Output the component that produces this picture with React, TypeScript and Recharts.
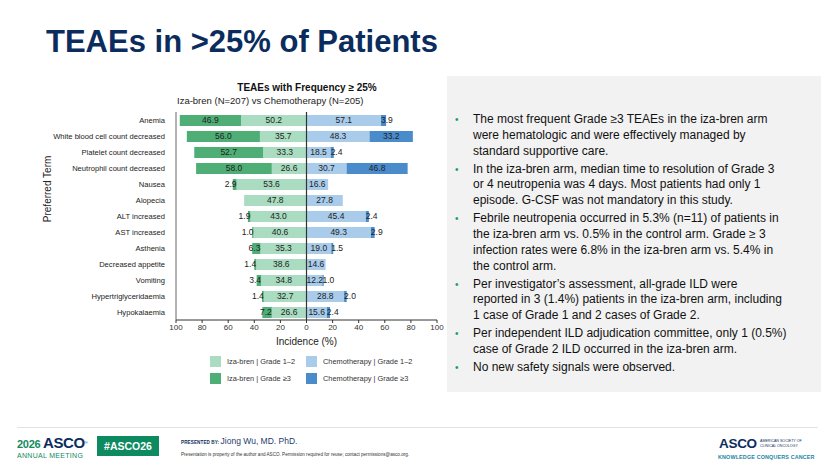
import React from 'react';
import { BarChart, Bar, XAxis, YAxis, ReferenceLine, LabelList } from 'recharts';

// Preferred terms, top to bottom
const categories = [
  'Anemia',
  'White blood cell count decreased',
  'Platelet count decreased',
  'Neutrophil count decreased',
  'Nausea',
  'Alopecia',
  'ALT increased',
  'AST increased',
  'Asthenia',
  'Decreased appetite',
  'Vomiting',
  'Hypertriglyceridaemia',
  'Hypokalaemia',
];

// Incidence (%) per arm and grade
const izaGrade12 = [50.2, 35.7, 33.3, 26.6, 53.6, 47.8, 43.0, 40.6, 35.3, 38.6, 34.8, 32.7, 26.6];
const izaGrade3 = [46.9, 56.0, 52.7, 58.0, 2.9, 0, 1.9, 1.0, 6.3, 1.4, 3.4, 1.4, 7.2];
const chemoGrade12 = [57.1, 48.3, 18.5, 30.7, 16.6, 27.8, 45.4, 49.3, 19.0, 14.6, 12.2, 28.8, 15.6];
const chemoGrade3 = [3.9, 33.2, 2.4, 46.8, 0, 0, 2.4, 2.9, 1.5, 0, 1.0, 2.0, 2.4];

const xTicks = [-100, -80, -60, -40, -20, 0, 20, 40, 60, 80, 100];

const legendItems = [
  { label: 'Iza-bren | Grade 1–2', key: 'izaLow' },
  { label: 'Chemotherapy | Grade 1–2', key: 'chemoLow' },
  { label: 'Iza-bren | Grade ≥3', key: 'izaHigh' },
  { label: 'Chemotherapy | Grade ≥3', key: 'chemoHigh' },
];

const bullets: string[][] = [
  [
    'The most frequent Grade ≥3 TEAEs in the iza-bren arm',
    'were hematologic and were effectively managed by',
    'standard supportive care.',
  ],
  [
    'In the iza-bren arm, median time to resolution of Grade 3',
    'or 4 neutropenia was 4 days. Most patients had only 1',
    'episode. G-CSF was not mandatory in this study.',
  ],
  [
    'Febrile neutropenia occurred in 5.3% (n=11) of patients in',
    'the iza-bren arm vs. 0.5% in the control arm. Grade ≥ 3',
    'infection rates were 6.8% in the iza-bren arm vs. 5.4% in',
    'the control arm.',
  ],
  [
    'Per investigator’s assessment, all-grade ILD were',
    'reported in 3 (1.4%) patients in the iza-bren arm, including',
    '1 case of Grade 1 and 2 cases of Grade 2.',
  ],
  [
    'Per independent ILD adjudication committee, only 1 (0.5%)',
    'case of Grade 2 ILD occurred in the iza-bren arm.',
  ],
  ['No new safety signals were observed.'],
];

const COLORS: Record<string, string> = {
  izaLow: '#a9dcc0',
  izaHigh: '#4eae75',
  chemoLow: '#a9cceb',
  chemoHigh: '#4a8bcb',
};

const FONT = '"Liberation Sans", Arial, Helvetica, sans-serif';
const NAVY = '#0b2d5e';
const GREEN = '#128a5e';

// Iza-bren values go to the left (negative), chemotherapy to the right
const rows = categories.map((term, i) => ({
  term,
  izaLow: -izaGrade12[i],
  izaHigh: -izaGrade3[i],
  chemoLow: chemoGrade12[i],
  chemoHigh: chemoGrade3[i],
}));

const LABEL_SIZE = 8.5;
const textWidth = (s: string) => {
  let w = 0;
  for (const ch of s) w += ch === '.' ? 0.278 : 0.556;
  return w * LABEL_SIZE;
};

// Centered value label; when the segment is too narrow the text starts at
// the segment's inner edge and runs outward.
const makeLabel = (side: 'left' | 'right') => (props: any) => {
  const { x, y, width, height, value } = props;
  const v = Math.abs(Number(value));
  if (!v) return <g />;
  const text = v.toFixed(1);
  const x0 = Math.min(x, x + width);
  const x1 = Math.max(x, x + width);
  const tw = textWidth(text);
  let tx = (x0 + x1) / 2;
  let anchor: 'middle' | 'start' | 'end' = 'middle';
  if (tw > x1 - x0) {
    if (side === 'left') {
      tx = x1;
      anchor = 'end';
    } else {
      tx = x0;
      anchor = 'start';
    }
  }
  return (
    <text
      x={tx}
      y={y + height / 2}
      dy="0.35em"
      textAnchor={anchor}
      fontSize={LABEL_SIZE}
      fontFamily={FONT}
      fill="#222"
    >
      {text}
    </text>
  );
};

// Single-line category tick (no wrapping)
const CategoryTick = (props: any) => {
  const { x, y, payload } = props;
  return (
    <text x={x} y={y} dy="0.35em" textAnchor="end" fontSize={7.6} fontFamily={FONT} fill="#222">
      {payload.value}
    </text>
  );
};

const YTitle = (props: any) => {
  const vb = props.viewBox || { x: 0, y: 0, height: 0 };
  const cx = vb.x + 7;
  const cy = vb.y + vb.height * 0.37;
  return (
    <text
      transform={`translate(${cx},${cy}) rotate(-90)`}
      textAnchor="middle"
      dy="0.35em"
      fontSize={10}
      fontFamily={FONT}
      fill="#222"
    >
      Preferred Term
    </text>
  );
};

export default function App() {
  return (
    <div
      style={{
        position: 'absolute',
        left: 0,
        top: 0,
        width: 831,
        height: 468,
        background: '#ffffff',
        fontFamily: FONT,
        overflow: 'hidden',
      }}
    >
      {/* Slide title */}
      <div
        style={{
          position: 'absolute',
          left: 46,
          top: 24,
          fontSize: 31,
          fontWeight: 700,
          color: NAVY,
          whiteSpace: 'nowrap',
          lineHeight: '36px',
        }}
      >
        TEAEs in &gt;25% of Patients
      </div>

      {/* Chart heading */}
      <div
        style={{
          position: 'absolute',
          left: 157,
          width: 300,
          top: 82,
          textAlign: 'center',
          fontSize: 10,
          fontWeight: 700,
          color: '#111',
          lineHeight: '12px',
        }}
      >
        TEAEs with Frequency ≥ 25%
      </div>
      <div
        style={{
          position: 'absolute',
          left: 177,
          top: 95,
          fontSize: 9.5,
          color: '#222',
          whiteSpace: 'nowrap',
          lineHeight: '12px',
        }}
      >
        Iza-bren (N=207) vs Chemotherapy (N=205)
      </div>

      <div style={{ position: 'absolute', left: 0, top: 0 }}>
        <BarChart
          width={460}
          height={400}
          data={rows}
          layout="vertical"
          stackOffset="sign"
          barSize={11}
          margin={{ top: 112, right: 23, left: 40, bottom: 50 }}
        >
          <XAxis
            type="number"
            domain={[-100, 100]}
            ticks={xTicks}
            allowDataOverflow
            tickFormatter={(v: number) => String(Math.abs(v))}
            tick={{ fontSize: 8, fill: '#333', fontFamily: FONT }}
            tickSize={3}
            tickMargin={1}
            axisLine={{ stroke: '#333' }}
            tickLine={{ stroke: '#333' }}
            height={30}
            label={{
              value: 'Incidence (%)',
              position: 'insideBottom',
              offset: 5,
              fontSize: 10,
              fill: '#222',
              fontFamily: FONT,
            }}
          />
          <YAxis
            type="category"
            dataKey="term"
            width={136}
            interval={0}
            tick={<CategoryTick />}
            tickLine={false}
            tickSize={0}
            tickMargin={11}
            axisLine={{ stroke: '#666' }}
            label={<YTitle />}
          />
          <Bar dataKey="izaLow" stackId="a" fill={COLORS.izaLow} isAnimationActive={false}>
            <LabelList dataKey="izaLow" content={makeLabel('left')} />
          </Bar>
          <Bar dataKey="izaHigh" stackId="a" fill={COLORS.izaHigh} isAnimationActive={false}>
            <LabelList dataKey="izaHigh" content={makeLabel('left')} />
          </Bar>
          <Bar dataKey="chemoLow" stackId="a" fill={COLORS.chemoLow} isAnimationActive={false}>
            <LabelList dataKey="chemoLow" content={makeLabel('right')} />
          </Bar>
          <Bar dataKey="chemoHigh" stackId="a" fill={COLORS.chemoHigh} isAnimationActive={false}>
            <LabelList dataKey="chemoHigh" content={makeLabel('right')} />
          </Bar>
          <ReferenceLine x={0} stroke="#333" strokeWidth={1.2} />
        </BarChart>
      </div>

      {/* Legend */}
      <div
        style={{
          position: 'absolute',
          left: 210,
          top: 356,
          display: 'grid',
          gridTemplateColumns: '96px 140px',
          rowGap: 6,
          fontSize: 7.4,
          color: '#333',
        }}
      >
        {legendItems.map((item) => (
          <div key={item.key} style={{ display: 'flex', alignItems: 'center', height: 11 }}>
            <span
              style={{
                display: 'inline-block',
                width: 11,
                height: 11,
                background: COLORS[item.key],
                marginRight: 6,
              }}
            />
            <span style={{ whiteSpace: 'nowrap' }}>{item.label}</span>
          </div>
        ))}
      </div>

      {/* Key findings panel */}
      <div
        style={{
          position: 'absolute',
          left: 447,
          top: 76,
          width: 374,
          height: 316,
          background: '#f2f2f2',
        }}
      >
        <div style={{ position: 'absolute', left: 0, top: 36 }}>
          {bullets.map((lines, i) => (
            <div key={i} style={{ position: 'relative', marginBottom: 2.2 }}>
              <span
                style={{
                  position: 'absolute',
                  left: 8,
                  top: 0,
                  fontSize: 10,
                  lineHeight: '15.8px',
                  color: '#1a9a68',
                }}
              >
                •
              </span>
              <div style={{ marginLeft: 26, fontSize: 12, lineHeight: '15.8px', color: '#111' }}>
                {lines.map((ln, j) => (
                  <div key={j} style={{ whiteSpace: 'nowrap' }}>
                    {ln}
                  </div>
                ))}
              </div>
            </div>
          ))}
        </div>
      </div>

      {/* Footer */}
      <div
        style={{
          position: 'absolute',
          left: 17,
          top: 427,
          width: 801,
          height: 1,
          background: '#e3e3e3',
        }}
      />
      <div
        style={{
          position: 'absolute',
          left: 17,
          top: 435,
          height: 15,
          whiteSpace: 'nowrap',
          lineHeight: '15px',
          fontSize: 15,
        }}
      >
        <span style={{ fontSize: 11, color: GREEN, fontWeight: 700, letterSpacing: -0.3 }}>2026 </span>
        <span style={{ fontSize: 15, color: NAVY, fontWeight: 700, letterSpacing: -0.4 }}>ASCO</span>
        <span style={{ fontSize: 4, color: NAVY, verticalAlign: 'top' }}>®</span>
      </div>
      <div
        style={{
          position: 'absolute',
          left: 17,
          top: 452,
          fontSize: 7,
          color: GREEN,
          letterSpacing: 0.3,
          whiteSpace: 'nowrap',
          lineHeight: '7px',
        }}
      >
        ANNUAL MEETING
      </div>
      <div
        style={{
          position: 'absolute',
          left: 97,
          top: 436,
          width: 62,
          height: 20,
          background: '#0e8a60',
          color: '#fff',
          fontSize: 10.5,
          fontWeight: 700,
          display: 'flex',
          alignItems: 'center',
          justifyContent: 'center',
        }}
      >
        #ASCO26
      </div>
      <div
        style={{
          position: 'absolute',
          left: 181,
          top: 436,
          whiteSpace: 'nowrap',
          lineHeight: '10px',
          fontSize: 8.5,
        }}
      >
        <span style={{ fontSize: 4.6, fontWeight: 700, color: NAVY, letterSpacing: 0.1 }}>PRESENTED BY: </span>
        <span style={{ fontSize: 8.5, color: '#1f3a6e' }}>Jiong Wu, MD. PhD.</span>
      </div>
      <div
        style={{
          position: 'absolute',
          left: 181,
          top: 452,
          fontSize: 4.6,
          color: '#333',
          whiteSpace: 'nowrap',
          lineHeight: '5px',
        }}
      >
        Presentation is property of the author and ASCO. Permission required for reuse; contact permissions@asco.org.
      </div>
      <div
        style={{
          position: 'absolute',
          left: 719,
          top: 437,
          fontSize: 13.5,
          fontWeight: 700,
          color: NAVY,
          letterSpacing: -0.3,
          lineHeight: '14px',
        }}
      >
        ASCO
      </div>
      <div
        style={{
          position: 'absolute',
          left: 760,
          top: 439,
          fontSize: 3.6,
          color: NAVY,
          lineHeight: '4.6px',
          whiteSpace: 'nowrap',
        }}
      >
        <div>AMERICAN SOCIETY OF</div>
        <div>CLINICAL ONCOLOGY</div>
      </div>
      <div
        style={{
          position: 'absolute',
          left: 718,
          top: 454,
          fontSize: 5.4,
          fontWeight: 700,
          color: '#1a86a6',
          letterSpacing: 0.15,
          whiteSpace: 'nowrap',
          lineHeight: '6px',
        }}
      >
        KNOWLEDGE CONQUERS CANCER
      </div>
    </div>
  );
}
